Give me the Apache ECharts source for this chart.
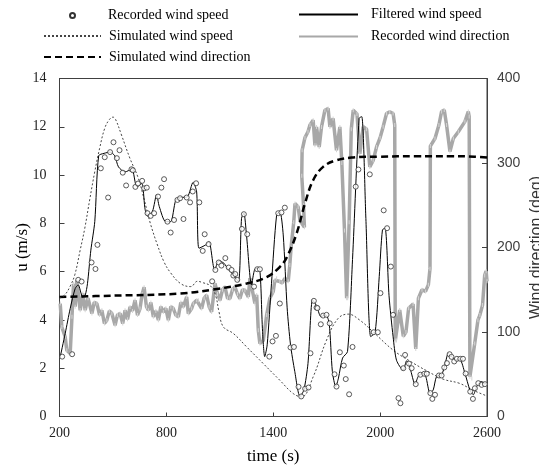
<!DOCTYPE html>
<html>
<head>
<meta charset="utf-8">
<script src="https://cdn.jsdelivr.net/npm/echarts@6/dist/echarts.min.js"></script>
<style>
  html, body { margin: 0; padding: 0; background: #fff; }
  #chart { width: 539px; height: 470px; }
</style>
</head>
<body>
<div id="chart"></div>
<script>
// time (s) ticks
var timeTicks = [200, 800, 1400, 2000, 2600];

// recorded wind speed samples [time, u]
var recordedSpeed = [
  [215,2.48],[271,2.58],[305,5.66],[324,5.59],[380,6.38],[402,6.11],[413,7.11],[432,10.28],[454,10.74],
  [473,9.07],[484,10.95],[503,11.36],[522,10.7],[537,11.03],[555,10.1],[574,9.57],[604,10.24],[612,10.2],
  [626,9.51],[641,9.65],[664,9.76],[675,9.45],[690,9.48],[694,8.42],[712,8.31],[731,8.42],[753,9.11],
  [772,9.48],[787,9.83],[806,8.07],[824,7.62],[843,8.14],[862,8.97],[877,9.04],[896,8.18],[914,9.07],
  [933,8.87],[948,9.32],[967,9.66],[985,8.87],[1004,6.86],[1015,7.55],[1037,7.14],[1057,5.6],[1075,6.07],
  [1094,6.38],[1109,6.25],[1131,6.56],[1150,6.17],[1166,6.07],[1176,5.84],[1187,5.9],[1198,5.66],
  [1224,7.77],[1235,8.38],[1254,7.55],[1292,5.38],[1310,6.1],[1325,6.1],[1378,2.48],[1396,3.11],
  [1415,3.34],[1428,8.42],[1437,4.68],[1446,8.45],[1465,8.65],[1497,2.86],[1516,2.88],[1542,1.23],
  [1557,0.83],[1579,1.15],[1598,1.2],[1609,2.62],[1628,4.79],[1643,4.51],[1648,4.49],[1667,3.82],
  [1680,4.18],[1699,4.21],[1717,3.86],[1744,1.75],[1755,1.24],[1774,2.66],[1796,2.11],[1807,1.55],
  [1826,0.92],[1845,2.88],[1863,9.52],[1878,10.23],[1942,10.03],[1964,3.49],[1987,3.49],[2002,5.11],
  [2020,8.54],[2039,7.8],[2060,6.21],[2073,4.21],[2103,0.76],[2114,0.55],[2130,2.0],[2140,2.55],
  [2162,2.19],[2177,2.0],[2200,1.34],[2226,1.73],[2248,1.77],[2262,1.77],[2282,0.97],[2293,0.73],
  [2308,0.9],[2330,1.7],[2345,1.7],[2360,2.03],[2375,2.21],[2390,2.58],[2401,2.47],[2416,2.28],
  [2431,2.39],[2450,2.39],[2465,2.39],[2480,1.78],[2506,1.03],[2521,0.73],[2532,1.17],[2551,1.38],
  [2570,1.31],[2588,1.34]
];

// filtered wind speed [time, u]
var filteredSpeed = [
  [204,2.47],[232,3.44],[260,4.47],[288,5.3],[305,5.45],[330,4.95],[344,5.02],[357,5.5],[376,6.89],
  [398,8.07],[420,10.8],[450,10.9],[484,10.95],[510,10.8],[531,10.34],[568,10.13],[606,10.25],
  [634,9.51],[662,9.65],[680,8.6],[694,8.3],[722,8.5],[745,9.18],[760,8.7],[796,8.07],[824,8.07],
  [853,8.97],[881,9.07],[918,9.1],[950,9.7],[970,9.3],[983,6.97],[1021,7.11],[1039,7.25],[1071,6.07],
  [1095,6.45],[1123,6.35],[1146,6.11],[1168,5.94],[1204,5.59],[1222,8.21],[1235,8.42],[1250,7.5],
  [1278,5.45],[1297,6.11],[1321,6.14],[1340,3.52],[1352,2.48],[1366,2.97],[1390,5.5],[1419,8.35],
  [1437,8.49],[1456,7.52],[1478,4.5],[1497,2.97],[1521,1.86],[1550,0.83],[1572,1.1],[1595,2.2],
  [1620,4.83],[1635,4.69],[1648,4.49],[1667,4.14],[1695,4.21],[1714,3.86],[1732,1.86],[1751,1.24],
  [1766,1.59],[1789,2.42],[1817,2.69],[1845,6.5],[1882,12.35],[1897,12.42],[1920,8.2],[1947,3.31],
  [1972,3.49],[1995,5.8],[2013,7.73],[2028,7.8],[2050,5.0],[2073,3.3],[2092,2.33],[2129,1.92],
  [2149,2.31],[2168,2.0],[2196,1.34],[2214,1.66],[2237,1.79],[2256,1.66],[2280,0.97],[2298,1.1],
  [2317,1.66],[2345,1.73],[2364,2.14],[2383,2.62],[2401,2.48],[2429,2.35],[2448,2.35],[2476,1.79],
  [2504,1.1],[2523,0.9],[2542,1.24],[2566,1.45],[2588,1.38],[2600,1.3]
];

// simulated wind speed [time, u]
var simulatedSpeed = [
  [200,4.9],[230,5.04],[260,5.4],[286,5.87],[316,6.89],[342,7.8],[370,9.0],[398,10.14],[425,11.1],
  [454,11.94],[480,12.3],[500,12.4],[515,12.3],[548,11.66],[595,10.7],[641,9.9],[675,9.0],[710,8.0],
  [750,7.1],[787,6.4],[824,5.95],[881,5.5],[937,5.38],[974,5.6],[1002,5.55],[1049,5.4],[1077,5.0],
  [1095,4.35],[1120,3.71],[1176,3.44],[1251,2.88],[1344,2.19],[1437,1.5],[1512,0.95],[1559,0.81],
  [1624,1.64],[1699,3.16],[1764,4.06],[1821,4.24],[1886,3.99],[1961,3.5],[2073,2.75],[2166,2.3],
  [2260,1.9],[2353,1.55],[2447,1.37],[2521,1.09],[2600,0.85]
];

// recorded wind direction [time, deg]
var recordedDir = [
  [204,133.7],[213,106],[232,94],[241,78.5],[260,74.6],[270,117.9],[279,157],[288,130],[297,161],
  [316,125.8],[331,145.6],[344,125.8],[360,140],[382,121.9],[395,135],[410,133.7],[425,120],[438,125.8],
  [452,110],[466,114],[480,125],[494,121.9],[512,108],[525,120],[540,121.9],[555,110],[568,125.8],
  [582,115],[596,129.7],[610,125],[624,137.6],[638,120],[652,127.8],[664,145],[675,153],[688,130],
  [699,125.8],[713,135],[727,117.9],[741,125],[755,114],[769,130],[783,123.8],[797,128],[811,114],
  [825,130],[839,127.8],[853,120],[867,117.9],[881,135],[895,129.7],[914,141.5],[923,121.9],[942,127.8],
  [951,133.7],[970,137.6],[979,137.6],[998,127.8],[1012,140],[1026,143.5],[1040,130],[1054,123.8],
  [1073,157.4],[1087,145],[1101,137.6],[1115,150],[1129,153.4],[1143,140],[1157,139.6],[1171,150],
  [1185,153.4],[1199,145],[1213,139.6],[1227,150],[1241,149.5],[1260,141.5],[1269,163.6],[1279,153.4],
  [1297,133.7],[1307,143.9],[1316,102],[1325,86.4],[1344,90],[1363,120],[1381,140],[1400,147.9],
  [1409,161.3],[1419,163.6],[1437,159.7],[1450,158],[1465,163.6],[1484,160],[1493,179.4],[1500,200],
  [1515,230],[1522,252],[1540,248],[1550,232],[1575,224],[1570,250],[1560,285],[1562,315],[1578,330],
  [1595,337],[1606,345],[1624,350.6],[1634,321],[1643,342.7],[1658,319],[1671,342.7],[1690,362.5],
  [1708,364.5],[1718,342.7],[1736,352.7],[1755,315],[1774,342.7],[1785,300],[1800,220],[1812,140],
  [1818,140],[1826,230],[1838,340],[1849,362.5],[1870,358],[1886,311],[1905,343],[1924,340],
  [1942,295.4],[1961,303],[1980,319],[2000,330],[2017,343],[2036,358.6],[2054,360.5],[2073,358.6],
  [2082,345],[2085,90],[2092,90],[2110,126],[2130,95],[2145,100],[2160,128],[2185,133],[2200,80],
  [2215,140],[2235,150],[2255,148],[2271,156],[2280,175],[2282,320],[2308,329],[2330,345],[2345,360.8],
  [2360,362.8],[2373,345],[2392,313.5],[2411,329],[2439,337],[2476,349],[2495,360.8],[2500,355],
  [2504,47],[2515,45],[2531,86.4],[2549,114],[2560,120],[2575,132],[2587,167],[2595,172],[2600,160]
];

// simulated wind direction [time, deg]
var simulatedDir = [
  [200,141.5],[500,143],[877,145.5],[1064,150.3],[1251,157.4],[1363,165],[1437,177],[1475,188],
  [1531,216.6],[1578,252],[1624,279.6],[1680,295.4],[1755,303.3],[1849,306.5],[1998,307.5],
  [2200,308],[2400,308],[2530,307.5],[2600,306.5]
];

var serif = 'Liberation Serif';
var axisColor = '#404040';

var chart = echarts.init(document.getElementById('chart'), null, { renderer: 'canvas' });

function legendAt(name, left, top, w, h, pad) {
  return {
    data: [name], left: left, top: top, itemWidth: w, itemHeight: h,
    selectedMode: false, padding: 0,
    itemStyle: { opacity: 0 },
    textStyle: { fontFamily: serif, fontSize: 14, color: '#000', padding: [0, 0, 0, pad] }
  };
}

var scatterLegend = legendAt('Recorded wind speed', 69, 8.5, 57, 5, 2);
scatterLegend.itemStyle = { opacity: 1 };

var option = {
  animation: false,
  legend: [
    scatterLegend,
    legendAt('Simulated wind speed', 43, 29, 57, 14, 3),
    legendAt('Simulated wind direction', 43, 50, 57, 14, 3),
    legendAt('Filtered wind speed', 298, 7.5, 59, 14, 8),
    legendAt('Recorded wind direction', 298, 29.5, 59, 14, 8)
  ],
  grid: {
    left: 59.5, right: 52, top: 78.5, bottom: 53.5,
    outerBoundsMode: 'none', containLabel: false,
    show: true, borderColor: axisColor, borderWidth: 1
  },
  xAxis: {
    type: 'value', min: 200, max: 2600,
    name: 'time (s)', nameLocation: 'middle', nameGap: 32, nameMoveOverlap: false,
    nameTextStyle: { fontFamily: serif, fontSize: 17, color: '#000' },
    axisLine: { lineStyle: { color: axisColor } },
    axisTick: { inside: true, length: 4, customValues: timeTicks, lineStyle: { color: axisColor } },
    axisLabel: {
      customValues: timeTicks, fontFamily: serif, fontSize: 14, color: '#222', margin: 10,
      formatter: function (v) { return String(v); }
    },
    splitLine: { show: false }
  },
  yAxis: [{
    type: 'value', min: 0, max: 14, interval: 2,
    name: 'u (m/s)', nameLocation: 'middle', nameGap: 28, nameMoveOverlap: false,
    nameTextStyle: { fontFamily: serif, fontSize: 17, color: '#000' },
    axisLine: { show: true, lineStyle: { color: axisColor } },
    axisTick: { show: true, inside: true, length: 5, lineStyle: { color: axisColor } },
    axisLabel: { fontFamily: serif, fontSize: 14, color: '#222', margin: 13 },
    splitLine: { show: false }
  }, {
    type: 'value', min: 0, max: 400, interval: 100, position: 'right',
    name: 'Wind direction (deg)', nameLocation: 'middle', nameGap: 42, nameMoveOverlap: false,
    nameTextStyle: { fontFamily: 'Liberation Sans', fontSize: 16, color: '#333' },
    axisLine: { show: true, lineStyle: { color: axisColor } },
    axisTick: { show: true, inside: true, length: 5, lineStyle: { color: axisColor } },
    axisLabel: { fontFamily: 'Liberation Sans', fontSize: 14, color: '#404040', margin: 10 },
    splitLine: { show: false }
  }],
  series: [{
    name: 'Recorded wind direction', type: 'line', yAxisIndex: 1, data: recordedDir,
    symbol: 'rect', symbolSize: [1, 4], showSymbol: true,
    itemStyle: { color: '#d4d4d4' },
    lineStyle: { color: '#a8a8a8', width: 3.5 }, z: 1
  }, {
    name: 'Simulated wind direction', type: 'line', yAxisIndex: 1, data: simulatedDir,
    smooth: 0.4, showSymbol: false, symbol: 'none',
    itemStyle: { color: '#000' },
    lineStyle: { color: '#000', width: 2.5, type: [7, 4] }, z: 2
  }, {
    name: 'Simulated wind speed', type: 'line', data: simulatedSpeed,
    smooth: 0.4, showSymbol: false, symbol: 'none',
    itemStyle: { color: '#444' },
    lineStyle: { color: '#444', width: 1, type: [2, 2] }, z: 3
  }, {
    name: 'Filtered wind speed', type: 'line', data: filteredSpeed,
    smooth: 0.25, showSymbol: false, symbol: 'none',
    itemStyle: { color: '#000' },
    lineStyle: { color: '#000', width: 1 }, z: 4
  }, {
    name: 'Recorded wind speed', type: 'scatter', data: recordedSpeed,
    symbol: 'circle', symbolSize: 5,
    itemStyle: { color: '#fff', borderColor: '#333', borderWidth: 1 }, z: 5
  }]
};

chart.setOption(option);
</script>
</body>
</html>
